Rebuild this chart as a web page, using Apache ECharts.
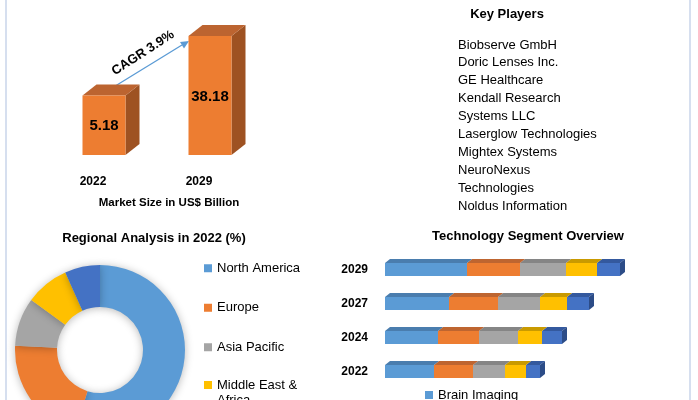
<!DOCTYPE html>
<html>
<head>
<meta charset="utf-8">
<script src="https://cdn.jsdelivr.net/npm/echarts@6/dist/echarts.min.js"></script>
<style>html,body{margin:0;padding:0;background:#fff}#c{width:698px;height:400px}</style>
</head>
<body>
<div id="c"></div>
<script>
// ---- data ----
const marketYears = ['2022', '2029'];
const marketValues = [5.18, 38.18];
const cagrText = 'CAGR 3.9%';
const marketCaption = 'Market Size in US$ Billion';

const keyPlayers = ['Biobserve GmbH', 'Doric Lenses Inc.', 'GE Healthcare', 'Kendall Research',
  'Systems LLC', 'Laserglow Technologies', 'Mightex Systems', 'NeuroNexus', 'Technologies', 'Noldus Information'];

const regions = ['North America', 'Europe', 'Asia Pacific', 'Middle East &\nAfrica', 'South America'];
const regionShares = [54.7, 21.1, 9.2, 8.3, 6.7];

const techYears = ['2022', '2024', '2027', '2029'];
const techSegments = ['Brain Imaging', 'Neuromodulation', 'Electrophysiology', 'Optogenetics', 'Others'];
const techBrain = [49, 53, 64, 82];
const techNeuromod = [39, 41, 49, 53];
const techElectro = [32, 39, 42, 46];
const techOpto = [21, 24, 27, 31];
const techOthers = [14, 20, 22, 23];

// ---- styles ----
const FONT = 'Liberation Sans';
const segColors = ['#5B9BD5', '#ED7D31', '#A5A5A5', '#FFC000', '#4472C4'];
const segTop = ['#4A7DAE', '#BE6530', '#858585', '#C99A00', '#34599E'];
const segSide = ['#3E6A95', '#A05224', '#707070', '#A88000', '#2C4C87'];

const chart = echarts.init(document.getElementById('c'), null, {renderer: 'canvas'});

const BAR_BASE = 0.7;
function renderMarket(params, api) {
  const idx = api.value(0), v = api.value(1);
  const pT = api.coord([idx, v]);
  const pB = api.coord([idx, BAR_BASE]);
  const w = 43, dx = 14, dy = 11;
  const x0 = pT[0] - w / 2, x1 = pT[0] + w / 2, yT = pT[1], yB = pB[1];
  return {type: 'group', children: [
    {type: 'polygon', shape: {points: [[x1, yT], [x1 + dx, yT - dy], [x1 + dx, yB - dy], [x1, yB]]}, style: {fill: '#9E5222'}},
    {type: 'polygon', shape: {points: [[x0, yT], [x1, yT], [x1 + dx, yT - dy], [x0 + dx, yT - dy]]}, style: {fill: '#BC6430'}},
    {type: 'rect', shape: {x: x0, y: yT, width: w, height: yB - yT}, style: {fill: '#ED7D31'}},
    {type: 'text', style: {text: String(v), x: pT[0], y: (yT + yB) / 2 + 1, align: 'center', verticalAlign: 'middle',
      font: 'bold 15px ' + FONT, fill: '#000'}}
  ]};
}

const techAll = [techBrain, techNeuromod, techElectro, techOpto, techOthers];
const techSeries = techAll.map((vals, s) => {
  const data = vals.map((v, i) => {
    let start = 0;
    for (let k = 0; k < s; k++) start += techAll[k][i];
    return [v, i, start];
  });
  const last = s === techAll.length - 1;
  return {
    type: 'custom', name: techSegments[s], xAxisIndex: 1, yAxisIndex: 1,
    itemStyle: {color: segColors[s]},
    encode: {x: 0, y: 1},
    data: data,
    z: 10 - s,
    renderItem: function (params, api) {
      const v = api.value(0), cat = api.value(1), st = api.value(2);
      const a = api.coord([st, cat]);
      const b = api.coord([st + v, cat]);
      const h = 13, dx = 5, dy = 4;
      const yT = a[1] - h / 2, yB = a[1] + h / 2;
      const ch = [
        {type: 'polygon', shape: {points: [[a[0], yT], [b[0], yT], [b[0] + dx, yT - dy], [a[0] + dx, yT - dy]]}, style: {fill: segTop[s]}},
        {type: 'rect', shape: {x: a[0], y: yT, width: b[0] - a[0], height: h}, style: {fill: segColors[s]}}
      ];
      if (last) ch.push({type: 'polygon', shape: {points: [[b[0], yT], [b[0] + dx, yT - dy], [b[0] + dx, yB - dy], [b[0], yB]]}, style: {fill: segSide[s]}});
      return {type: 'group', children: ch};
    }
  };
});

const legendText = {fontFamily: FONT, fontSize: 13, color: '#000', lineHeight: 15.5};

const option = {
  animation: false,
  backgroundColor: '#fff',
  textStyle: {fontFamily: FONT},
  title: [
    {text: 'Key Players', left: 507, top: 8, textAlign: 'center', padding: 0,
      textStyle: {fontFamily: FONT, fontSize: 13, fontWeight: 'bold', color: '#000'}},
    {text: keyPlayers.join('\n'), left: 458, top: 36, padding: 0,
      textStyle: {fontFamily: FONT, fontSize: 13, fontWeight: 'normal', color: '#000', lineHeight: 17.9}},
    {text: 'Regional Analysis in 2022 (%)', left: 154, top: 231.5, textAlign: 'center', padding: 0,
      textStyle: {fontFamily: FONT, fontSize: 13, fontWeight: 'bold', color: '#000'}},
    {text: 'Technology Segment Overview', left: 528, top: 230, textAlign: 'center', padding: 0,
      textStyle: {fontFamily: FONT, fontSize: 13, fontWeight: 'bold', color: '#000'}},
    {text: marketCaption, left: 169, top: 196.5, textAlign: 'center', padding: 0,
      textStyle: {fontFamily: FONT, fontSize: 11.5, fontWeight: 'bold', color: '#000'}}
  ],
  grid: [
    {left: 51, width: 212, top: 28, bottom: 245},
    {left: 385, width: 300, top: 252.5, bottom: 11.5}
  ],
  xAxis: [
    {gridIndex: 0, type: 'category', data: marketYears, boundaryGap: true,
      axisLine: {show: false}, axisTick: {show: false}, splitLine: {show: false},
      axisLabel: {margin: 21, padding: [0, 22, 0, 0], fontFamily: FONT, fontSize: 12, fontWeight: 'bold', color: '#000'}},
    {gridIndex: 1, type: 'value', min: 0, max: 300, show: false}
  ],
  yAxis: [
    {gridIndex: 0, type: 'log', logBase: 10, min: BAR_BASE, max: 50, show: false},
    {gridIndex: 1, type: 'category', data: techYears,
      axisLine: {show: false}, axisTick: {show: false}, splitLine: {show: false},
      axisLabel: {margin: 17, fontFamily: FONT, fontSize: 12, fontWeight: 'bold', color: '#000'}}
  ],
  legend: [
    {data: regions.slice(0, 3), orient: 'vertical', left: 204, top: 260.5, height: 1000, padding: 0,
      itemWidth: 8, itemHeight: 8, itemGap: 24, icon: 'rect', textStyle: legendText},
    {data: regions.slice(3), orient: 'vertical', left: 204, top: 361.75, height: 1000, padding: 0,
      itemWidth: 8, itemHeight: 8, itemGap: 24, icon: 'rect', textStyle: legendText,
      formatter: function (name) { return name === regions[3] ? '\n' + name : name; }},
    {data: techSegments, orient: 'vertical', left: 425, top: 388.5, height: 1000, padding: 0, itemWidth: 8, itemHeight: 8, itemGap: 20,
      icon: 'rect', textStyle: {fontFamily: FONT, fontSize: 13, color: '#000'}}
  ],
  series: [
    {type: 'custom', xAxisIndex: 0, yAxisIndex: 0, renderItem: renderMarket,
      data: marketValues.map((v, i) => [i, v]), encode: {x: 0, y: 1}},
    {type: 'pie', center: [100, 350], radius: [43, 85], startAngle: 90, clockwise: true,
      label: {show: false}, labelLine: {show: false}, silent: true,
      itemStyle: {shadowBlur: 8, shadowColor: 'rgba(0,0,0,0.28)', shadowOffsetY: 1},
      color: segColors,
      data: regions.map((n, i) => ({name: n, value: regionShares[i]}))},
    ...techSeries
  ],
  graphic: [
    {type: 'rect', shape: {x: 5, y: 0, width: 2, height: 400}, style: {fill: '#D6DFEF'}, silent: true},
    {type: 'rect', shape: {x: 689, y: 0, width: 2, height: 400}, style: {fill: '#D6DFEF'}, silent: true},
    {type: 'line', shape: {x1: 112, y1: 88, x2: 182, y2: 45}, style: {stroke: '#5B9BD5', lineWidth: 1.3}},
    {type: 'polygon', shape: {points: [[189, 41], [180, 42], [184, 48.5]]}, style: {fill: '#5B9BD5'}},
    {type: 'text', x: 143, y: 53, rotation: 33 * Math.PI / 180,
      style: {text: cagrText, align: 'center', verticalAlign: 'middle', font: 'bold 13px ' + FONT, fill: '#000'}}
  ]
};
chart.setOption(option);
</script>
</body>
</html>
